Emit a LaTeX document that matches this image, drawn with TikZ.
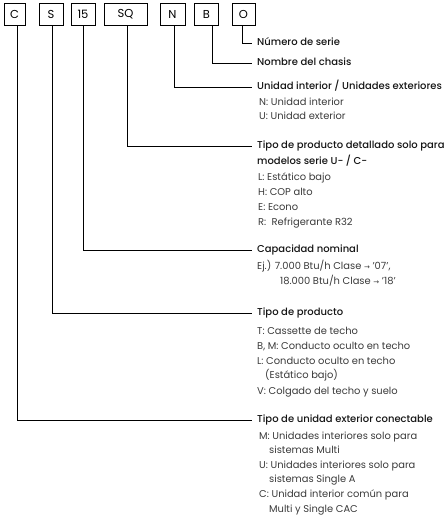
\documentclass[tikz,border=0pt]{standalone}
\usepackage{fontspec}
\setmainfont{Poppins}
\IfFontExistsTF{Poppins Medium}
  {\newfontfamily\headfont{Poppins Medium}}
  {\newfontfamily\headfont{Poppins}[FakeBold=0.6]}
\newfontfamily\symfont{DejaVu Sans}
\newcommand{\rarr}{{\symfont\fontsize{7}{8}\selectfont →}}
\definecolor{headc}{HTML}{151515}
\definecolor{itemc}{HTML}{3A3A3A}
\begin{document}
\begin{tikzpicture}[x=1pt,y=-1pt,
  box/.style={draw=black,line width=0.9pt,minimum height=22pt,inner sep=0pt,font=\fontsize{11.5}{13}\selectfont},
  conn/.style={draw=black,line width=0.8pt},
  head/.style={anchor=west,inner xsep=5pt,inner ysep=0pt,text height=7.5pt,text depth=2.2pt,text=headc,font=\headfont\fontsize{10}{12}\selectfont},
  item/.style={anchor=west,inner sep=0pt,text height=7.5pt,text depth=2.2pt,text=itemc,font=\fontsize{9.9}{12}\selectfont}]
\useasboundingbox (0,0) rectangle (444,522);
% code boxes
\node[box,minimum width=21pt] (bC) at (14.5,14) {C};
\node[box,minimum width=24pt] (bS) at (51,14) {S};
\node[box,minimum width=24pt] (b15) at (83,14) {15};
\node[box,minimum width=43pt] (bSQ) at (125.5,14) {SQ};
\node[box,minimum width=25pt] (bN) at (172.5,14) {N};
\node[box,minimum width=24pt] (bB) at (206.5,14) {B};
\node[box,minimum width=23pt] (bO) at (243.5,14) {O};
% headings
\node[head] (hO) at (252,43) {Número de serie};
\node[head] (hB) at (252,63) {Nombre del chasis};
\node[head] (hN) at (252,87) {Unidad interior / Unidades exteriores};
\node[head] (hSQ) at (252,146) {Tipo de producto detallado solo para};
\node[head] (hSQb) at (252,162) {modelos serie U- / C-};
\node[head] (h15) at (252,250) {Capacidad nominal};
\node[head] (hS) at (252,313) {Tipo de producto};
\node[head] (hC) at (252,420) {Tipo de unidad exterior conectable};
% items
\node[item] (iN1) at (259,103) {N: Unidad interior};
\node[item] (iN2) at (259,117) {U: Unidad exterior};
\node[item] (iSQ1) at (258,178) {L: Estático bajo};
\node[item] (iSQ2) at (258,193) {H: COP alto};
\node[item] (iSQ3) at (258,208) {E: Econo};
\node[item] (iSQ4) at (258,223) {R:\ \ Refrigerante R32};
\node[item] (i151) at (257,267) {Ej.) 7.000 Btu/h Clase \rarr\ '07',};
\node[item] (i152) at (280,282) {18.000 Btu/h Clase \rarr\ '18'};
\node[item] (iS1) at (257,332) {T: Cassette de techo};
\node[item] (iS2) at (257,347) {B, M: Conducto oculto en techo};
\node[item] (iS3) at (257,362) {L: Conducto oculto en techo};
\node[item] (iS4) at (265,376) {(Estático bajo)};
\node[item] (iS5) at (257,392) {V: Colgado del techo y suelo};
\node[item] (iC1) at (259,437) {M: Unidades interiores solo para};
\node[item] (iC2) at (269,451) {sistemas Multi};
\node[item] (iC3) at (259,466) {U: Unidades interiores solo para};
\node[item] (iC4) at (269,480) {sistemas Single A};
\node[item] (iC5) at (259,495) {C: Unidad interior común para};
\node[item] (iC6) at (269,510) {Multi y Single CAC};
% connectors
\draw[conn] ([xshift=2.5pt]bC.south) |- (hC.west);
\draw[conn] ([xshift=1pt]bS.south) |- (hS.west);
\draw[conn] (b15.south) |- (h15.west);
\draw[conn] ([xshift=1.5pt]bSQ.south) |- (hSQ.west);
\draw[conn] ([xshift=1.5pt]bN.south) |- (hN.west);
\draw[conn] ([xshift=5.5pt]bB.south) |- (hB.west);
\draw[conn] ([xshift=-1.5pt]bO.south) |- (hO.west);
\end{tikzpicture}
\end{document}
